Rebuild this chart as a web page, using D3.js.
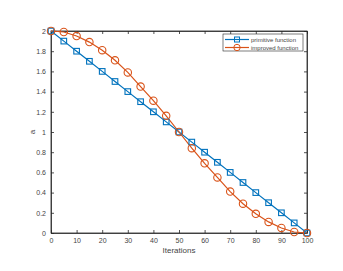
<!DOCTYPE html>
<html><head><meta charset="utf-8">
<script src="https://cdn.jsdelivr.net/npm/d3@7"></script>
<style>body{margin:0;background:#fff}svg{display:block}text{font-family:"Liberation Sans",Arial,sans-serif}</style>
</head><body><svg id="c" width="343" height="271"></svg>
<script>
const iterations=[0,5,10,15,20,25,30,35,40,45,50,55,60,65,70,75,80,85,90,95,100];
const primitive=[2,1.9,1.8,1.7,1.6,1.5,1.4,1.3,1.2,1.1,1.0,0.9,0.8,0.7,0.6,0.5,0.4,0.3,0.2,0.1,0];
const improved=[2,1.99,1.95,1.89,1.81,1.71,1.59,1.45,1.31,1.16,1.0,0.84,0.69,0.55,0.41,0.29,0.19,0.11,0.05,0.01,0];
const xTicks=[0,10,20,30,40,50,60,70,80,90,100];
const yTicks=[0,0.2,0.4,0.6,0.8,1,1.2,1.4,1.6,1.8,2];
const seriesNames=["primitive function","improved function"];
const colors=["#0072BD","#D95319"];

const svg=d3.select("#c");
const L=51,R=307,T=31,B=233;
const x=d3.scaleLinear().domain([0,100]).range([L,R]);
const y=d3.scaleLinear().domain([0,2]).range([B,T]);
const ax="#262626";
// box
svg.append("rect").attr("x",L).attr("y",T).attr("width",R-L).attr("height",B-T).attr("fill","#fff").attr("stroke",ax).attr("stroke-width",0.8);
const fs="7px";
// x ticks
const gx=svg.append("g").attr("transform",`translate(0,${B})`).call(d3.axisBottom(x).tickValues(xTicks).tickSizeInner(-3).tickSizeOuter(0).tickPadding(5).tickFormat(d3.format("d")));
const gxt=svg.append("g").attr("transform",`translate(0,${T})`).call(d3.axisTop(x).tickValues(xTicks).tickSizeInner(-3).tickSizeOuter(0).tickFormat(""));
const gy=svg.append("g").attr("transform",`translate(${L},0)`).call(d3.axisLeft(y).tickValues(yTicks).tickSizeInner(-3).tickSizeOuter(0).tickPadding(5).tickFormat(d=>d3.format("")(d)));
const gyr=svg.append("g").attr("transform",`translate(${R},0)`).call(d3.axisRight(y).tickValues(yTicks).tickSizeInner(-3).tickSizeOuter(0).tickFormat(""));
[gx,gxt,gy,gyr].forEach(g=>{g.select(".domain").attr("stroke",ax).attr("stroke-width",0.8);g.selectAll("line").attr("stroke",ax).attr("stroke-width",0.8);g.selectAll("text").attr("fill","#444").style("font-size",fs).style("font-family","Liberation Sans, Arial, sans-serif");});
// labels
svg.append("text").attr("x",(L+R)/2).attr("y",253).attr("text-anchor","middle").attr("fill","#444").style("font-size","8px").text("Iterations");
svg.append("text").attr("transform",`translate(35,${(T+B)/2}) rotate(-90)`).attr("text-anchor","middle").attr("fill","#444").style("font-size","8px").text("a");

const line=d3.line().x((d,i)=>x(iterations[i])).y(d=>y(d));
[primitive,improved].forEach((s,k)=>{
  svg.append("path").datum(s).attr("d",line).attr("fill","none").attr("stroke",colors[k]).attr("stroke-width",1.2);
});
// markers
svg.append("g").selectAll("rect").data(primitive).join("rect")
 .attr("x",(d,i)=>x(iterations[i])-2.8).attr("y",d=>y(d)-2.8).attr("width",5.6).attr("height",5.6)
 .attr("fill","none").attr("stroke",colors[0]).attr("stroke-width",1.1);
svg.append("g").selectAll("circle").data(improved).join("circle")
 .attr("cx",(d,i)=>x(iterations[i])).attr("cy",d=>y(d)).attr("r",3.7)
 .attr("fill","none").attr("stroke",colors[1]).attr("stroke-width",1.1);
// legend
const lg=svg.append("g");
lg.append("rect").attr("x",223).attr("y",34).attr("width",80).attr("height",17).attr("fill","#fff").attr("stroke",ax).attr("stroke-width",0.6);
seriesNames.forEach((n,k)=>{
  const yy=39.5+k*8;
  lg.append("line").attr("x1",225).attr("x2",249).attr("y1",yy).attr("y2",yy).attr("stroke",colors[k]).attr("stroke-width",1.2);
  if(k===0) lg.append("rect").attr("x",237-2.5).attr("y",yy-2.5).attr("width",5).attr("height",5).attr("fill","none").attr("stroke",colors[k]).attr("stroke-width",1);
  else lg.append("circle").attr("cx",237).attr("cy",yy).attr("r",3.2).attr("fill","none").attr("stroke",colors[k]).attr("stroke-width",1);
  lg.append("text").attr("x",251).attr("y",yy+2.2).attr("fill","#444").style("font-size","6px").text(n);
});
</script></body></html>
